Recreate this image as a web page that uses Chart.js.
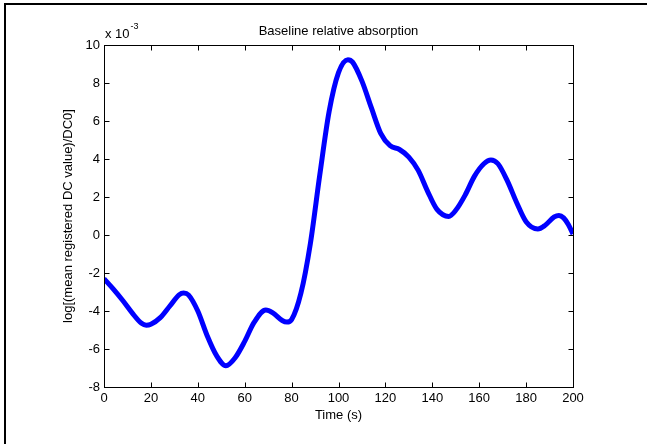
<!DOCTYPE html>
<html>
<head>
<meta charset="utf-8">
<script src="https://cdn.jsdelivr.net/npm/chart.js@4/dist/chart.umd.min.js"></script>
<style>
  html, body { margin: 0; padding: 0; background: #fff; overflow: hidden; }
  canvas { display: block; }
</style>
</head>
<body>
<canvas id="c" width="647" height="444"></canvas>
<script>
// Time (s)
const timeSeconds = [0, 4, 8, 12, 16, 18, 20, 24, 28, 32, 34, 36, 40, 44, 48, 52, 56, 60, 64, 69, 72, 76, 78, 80, 84, 88, 92, 96, 100, 104, 106, 110, 114, 118, 122, 126, 130, 134, 138, 142, 147, 150, 154, 158, 162, 165, 168, 172, 176, 180, 185, 188, 192, 194, 196, 198, 200];
// log[(mean registered DC value)/DC0], in units of 1e-3
const absorptionE3 = [-2.3, -2.85, -3.45, -4.1, -4.65, -4.75, -4.7, -4.35, -3.75, -3.15, -3.05, -3.15, -4.0, -5.3, -6.35, -6.88, -6.45, -5.6, -4.6, -3.95, -4.1, -4.5, -4.58, -4.45, -3.05, -0.45, 3.15, 6.5, 8.55, 9.23, 9.1, 8.1, 6.7, 5.35, 4.7, 4.5, 4.1, 3.4, 2.3, 1.35, 0.98, 1.3, 2.1, 3.1, 3.75, 3.95, 3.75, 2.85, 1.7, 0.7, 0.32, 0.5, 0.95, 1.03, 0.9, 0.55, 0.05];
const xTicks = [0, 20, 40, 60, 80, 100, 120, 140, 160, 180, 200];
const yTicks = [-8, -6, -4, -2, 0, 2, 4, 6, 8, 10];
const chartTitle = 'Baseline relative absorption';
const xTitle = 'Time (s)';
const yTitle = 'log[(mean registered DC value)/DC0]';
const exponentBase = 'x 10';
const exponentPower = '-3';

const FONT = '"Liberation Sans", Arial, Helvetica, sans-serif';

const points = timeSeconds.map((t, i) => ({ x: t, y: absorptionE3[i] }));

const matlabBox = {
  id: 'matlabBox',
  beforeDraw(chart) {
    const { ctx } = chart;
    ctx.save();
    ctx.fillStyle = '#000';
    ctx.fillRect(4, 3, 2, 441);
    ctx.fillRect(4, 3, 643, 2);
    ctx.restore();
  },
  afterDraw(chart) {
    const { ctx, chartArea: a, scales } = chart;
    ctx.save();
    ctx.strokeStyle = '#000';
    ctx.lineWidth = 1;
    const L = Math.round(a.left) + 0.5, R = Math.round(a.right) + 0.5;
    const T = Math.round(a.top) + 0.5, B = Math.round(a.bottom) + 0.5;
    ctx.strokeRect(L, T, R - L, B - T);
    const tl = 5;
    ctx.beginPath();
    xTicks.forEach(v => {
      const px = Math.round(scales.x.getPixelForValue(v)) + 0.5;
      ctx.moveTo(px, B); ctx.lineTo(px, B - tl);
      ctx.moveTo(px, T); ctx.lineTo(px, T + tl);
    });
    yTicks.forEach(v => {
      const py = Math.round(scales.y.getPixelForValue(v)) + 0.5;
      ctx.moveTo(L, py); ctx.lineTo(L + tl, py);
      ctx.moveTo(R, py); ctx.lineTo(R - tl, py);
    });
    ctx.stroke();
    // title
    ctx.fillStyle = '#000';
    ctx.font = '13px ' + FONT;
    ctx.textAlign = 'center';
    ctx.textBaseline = 'middle';
    ctx.fillText(chartTitle, (a.left + a.right) / 2, 31);
    // exponent label
    ctx.textAlign = 'left';
    ctx.fillText(exponentBase, a.left + 1, 34);
    const w = ctx.measureText(exponentBase).width;
    ctx.font = '9px ' + FONT;
    ctx.fillText(exponentPower, a.left + 1 + w + 1, 27);
    ctx.restore();
  }
};

new Chart(document.getElementById('c'), {
  type: 'line',
  data: {
    datasets: [{
      data: points,
      borderColor: '#0000ff',
      borderWidth: 5,
      pointRadius: 0,
      cubicInterpolationMode: 'monotone',
      fill: false
    }]
  },
  options: {
    responsive: false,
    animation: false,
    devicePixelRatio: 1,
    layout: { padding: { left: 0, top: 45, right: 74, bottom: 0 } },
    plugins: { legend: { display: false }, title: { display: false }, tooltip: { enabled: false } },
    scales: {
      x: {
        type: 'linear', min: 0, max: 200,
        afterBuildTicks: s => { s.ticks = xTicks.map(v => ({ value: v })); },
        afterFit: s => { s.height = 57; },
        grid: { display: false, drawTicks: false },
        border: { display: false },
        ticks: { color: '#000', font: { size: 13, family: FONT }, padding: 4, maxRotation: 0, autoSkip: false },
        title: { display: true, text: xTitle, color: '#000', font: { size: 13, family: FONT }, padding: { top: 0, bottom: 21 } }
      },
      y: {
        type: 'linear', min: -8, max: 10,
        afterBuildTicks: s => { s.ticks = yTicks.map(v => ({ value: v })); },
        afterFit: s => { s.width = 104; },
        grid: { display: false, drawTicks: false },
        border: { display: false },
        ticks: { color: '#000', font: { size: 13, family: FONT }, padding: 4, autoSkip: false },
        title: { display: true, text: yTitle, color: '#000', font: { size: 13, family: FONT }, padding: { top: 61, bottom: 0 } }
      }
    }
  },
  plugins: [matlabBox]
});
</script>
</body>
</html>
